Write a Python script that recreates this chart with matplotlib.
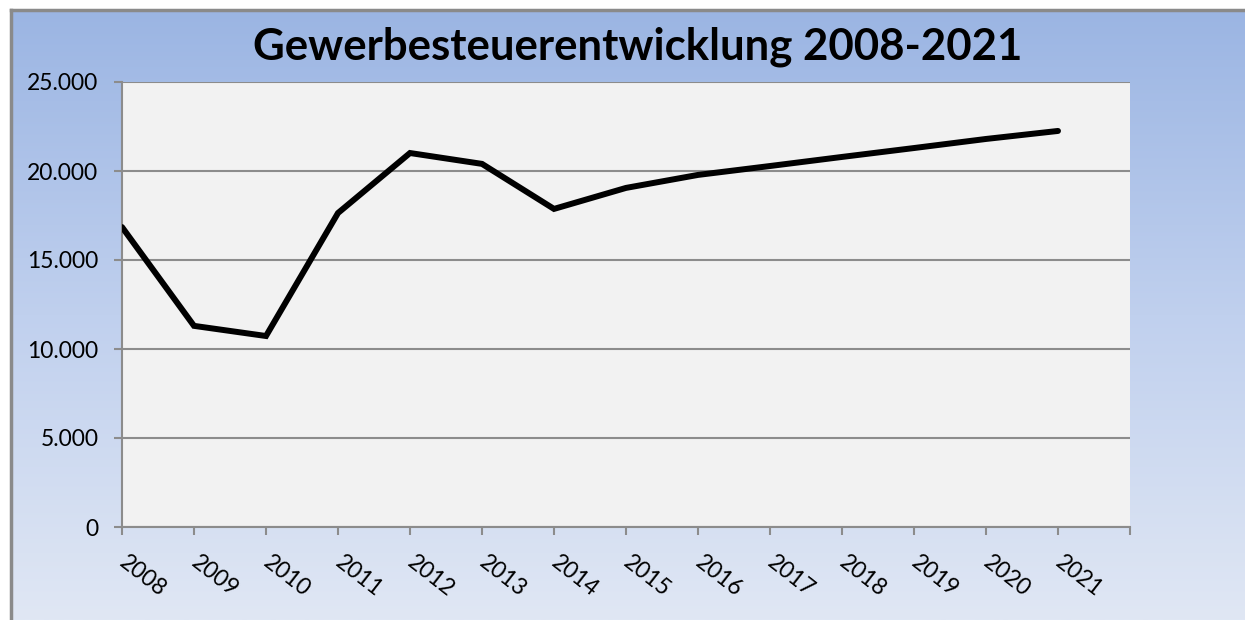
import numpy as np
import matplotlib
matplotlib.use("Agg")
import matplotlib.pyplot as plt
from matplotlib.colors import LinearSegmentedColormap
from matplotlib.ticker import FuncFormatter

years = ["2008", "2009", "2010", "2011", "2012", "2013", "2014",
         "2015", "2016", "2017", "2018", "2019", "2020", "2021"]
values = [16850, 11300, 10730, 17640, 21010, 20400, 17870,
          19050, 19780, 20280, 20790, 21290, 21800, 22250]
yticks = [0, 5000, 10000, 15000, 20000, 25000]
title = "Gewerbesteuerentwicklung 2008-2021"

W, H = 1245, 620
fig = plt.figure(figsize=(W / 100, H / 100), dpi=100)
fig.patch.set_facecolor("white")
plt.rcParams['font.family'] = ['Lato', 'DejaVu Sans']

# gradient background of chart area
bg = fig.add_axes([11 / W, 0, 1 - 11 / W, 1 - 10 / H], zorder=0)
cmap = LinearSegmentedColormap.from_list("g", ["#9bb5e3", "#c0d0ee", "#e0e7f4"])
grad = np.linspace(0, 1, 256).reshape(-1, 1)
bg.imshow(grad, aspect="auto", cmap=cmap, extent=[0, 1, 0, 1], origin="upper")
bg.set_xticks([]); bg.set_yticks([])
for s in ["right", "bottom"]:
    bg.spines[s].set_visible(False)
for s in ["left", "top"]:
    bg.spines[s].set_color("#8a8a8a")
    bg.spines[s].set_linewidth(2.5)

x0, x1, y0, y1 = 122, 1130, 82, 527
ax = fig.add_axes([x0 / W, 1 - y1 / H, (x1 - x0) / W, (y1 - y0) / H], zorder=1)
ax.set_facecolor("#f2f2f2")
xs = np.arange(len(years))
ax.plot(xs, values, color="black", lw=4.3, solid_joinstyle="miter",
        solid_capstyle="round", zorder=3)
ax.set_xlim(0, len(years))
ax.set_ylim(0, 25000)
ax.set_yticks(yticks)
ax.yaxis.set_major_formatter(FuncFormatter(lambda v, p: f"{int(v):,}".replace(",", ".")))
ax.set_xticks(np.arange(len(years) + 1))
ax.set_xticklabels(years + [""])
ax.grid(axis="y", color="#8c8c8c", lw=1.5, zorder=1)
ax.set_axisbelow(True)
for s in ["top", "right"]:
    ax.spines[s].set_visible(False)
for s in ["left", "bottom"]:
    ax.spines[s].set_color("#8c8c8c")
    ax.spines[s].set_linewidth(1.5)
ax.tick_params(axis="both", direction="out", length=6, width=1.5, color="#8c8c8c",
               labelsize=16.5, labelcolor="black")
ax.tick_params(axis="y", pad=11)
ax.tick_params(axis="x", pad=18)
for lab in ax.get_xticklabels():
    lab.set_rotation(-38)
    lab.set_rotation_mode("anchor")
    lab.set_ha("left")
    lab.set_va("center")

fig.text(638 / W, 1 - 47 / H, title, ha="center", va="center",
         fontsize=31.5, fontweight="bold", color="black")

fig.savefig("out.png", dpi=100)
